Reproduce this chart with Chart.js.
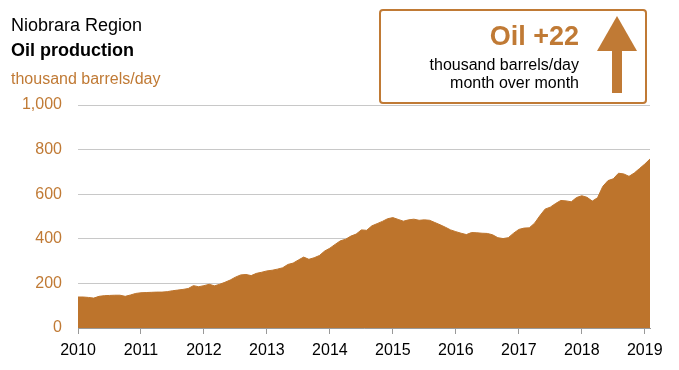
<!DOCTYPE html>
<html>
<head>
<meta charset="utf-8">
<script src="https://cdn.jsdelivr.net/npm/chart.js@4"></script>
<style>
  body { margin: 0; background: #fff; font-family: "Liberation Sans", Arial, sans-serif; }
  #wrap { position: relative; width: 679px; height: 370px; }
  #chart { position: absolute; left: 0; top: 0; }
  .t { position: absolute; white-space: nowrap; }
  #box { position: absolute; left: 379px; top: 9px; width: 264px; height: 91px;
         border: 2px solid #c07a35; border-radius: 4px; }
</style>
</head>
<body>
<div id="wrap">
  <canvas id="chart" width="679" height="370"></canvas>
  <div class="t" style="left:11px;top:15px;font-size:18px;color:#000">Niobrara Region</div>
  <div class="t" style="left:11px;top:40px;font-size:18px;font-weight:bold;color:#000">Oil production</div>
  <div class="t" style="left:11px;top:70px;font-size:16px;color:#c07a35">thousand barrels/day</div>
  <div id="box">
    <div class="t" style="right:66px;top:10px;font-size:27px;font-weight:bold;color:#c07a35">Oil +22</div>
    <div class="t" style="right:66px;top:45px;font-size:16px;color:#000;text-align:right;line-height:18px">thousand barrels/day<br>month over month</div>
    <svg style="position:absolute;left:214px;top:4px" width="44" height="80">
      <polygon points="22,1 2,36 42,36" fill="#c07a35"/>
      <rect x="17" y="35" width="10" height="43" fill="#c07a35"/>
    </svg>
  </div>
</div>
<script>
"use strict"

// monthly Niobrara oil production, Jan 2010 .. Feb 2019 (thousand barrels/day)
const startYear = 2010;
const yearTicks = [0, 200, 400, 600, 800, 1000];
const production = [
  139, 139, 137, 134, 142, 145, 146, 147, 147, 142, 148, 155,   // 2010
  158, 159, 160, 161, 161, 163, 167, 170, 173, 177, 190, 185,   // 2011
  190, 196, 189, 196, 205, 215, 228, 238, 240, 235, 245, 250,   // 2012
  256, 259, 264, 270, 285, 291, 305, 318, 308, 315, 325, 345,   // 2013
  358, 375, 391, 398, 412, 421, 440, 438, 458, 468, 478, 490,   // 2014
  495, 487, 479, 485, 488, 483, 485, 483, 473, 463, 452, 440,   // 2015
  432, 425, 419, 428, 427, 425, 424, 418, 405, 401, 405, 425,   // 2016
  442, 448, 449, 470, 503, 533, 542, 558, 572, 570, 566, 585,   // 2017
  593, 586, 569, 584, 635, 661, 669, 694, 691, 680, 695, 715,   // 2018
  735, 758                                                      // 2019
];

const orange = '#bd742c';
const points = production.map((v, i) => ({x: i, y: v}));

new Chart(document.getElementById("chart"), {
  type: 'line',
  data: {
    datasets: [{
      data: points,
      fill: 'origin',
      backgroundColor: orange,
      borderColor: orange,
      borderWidth: 1,
      pointRadius: 0,
      tension: 0
    }]
  },
  options: {
    responsive: false,
    animation: false,
    events: [],
    layout: { padding: { left: 0, top: 105, right: 29, bottom: 0 } },
    plugins: { legend: { display: false }, tooltip: { enabled: false } },
    scales: {
      x: {
        type: 'linear',
        min: 0,
        max: production.length - 1,
        afterBuildTicks: (s) => { s.ticks = []; for (let v = 0; v < production.length; v += 12) s.ticks.push({value: v}); },
        afterFit: (s) => { s.height = 42; },
        ticks: {
          color: '#000',
          font: { family: 'Liberation Sans', size: 16 },
          padding: 7,
          maxRotation: 0,
          callback: (v) => String(startYear + v / 12)
        },
        grid: { drawOnChartArea: false, color: '#999', tickLength: 6 },
        border: { color: '#999' }
      },
      y: {
        min: 0,
        max: 1000,
        afterBuildTicks: (s) => { s.ticks = yearTicks.map(v => ({value: v})); },
        afterFit: (s) => { s.width = 78; },
        ticks: {
          color: '#c07a35',
          font: { family: 'Liberation Sans', size: 16 },
          padding: 16,
          callback: (v) => v.toLocaleString('en-US')
        },
        grid: { color: '#c8c8c8', lineWidth: 1, drawTicks: false },
        border: { display: false }
      }
    }
  }
});
</script>
</body>
</html>
